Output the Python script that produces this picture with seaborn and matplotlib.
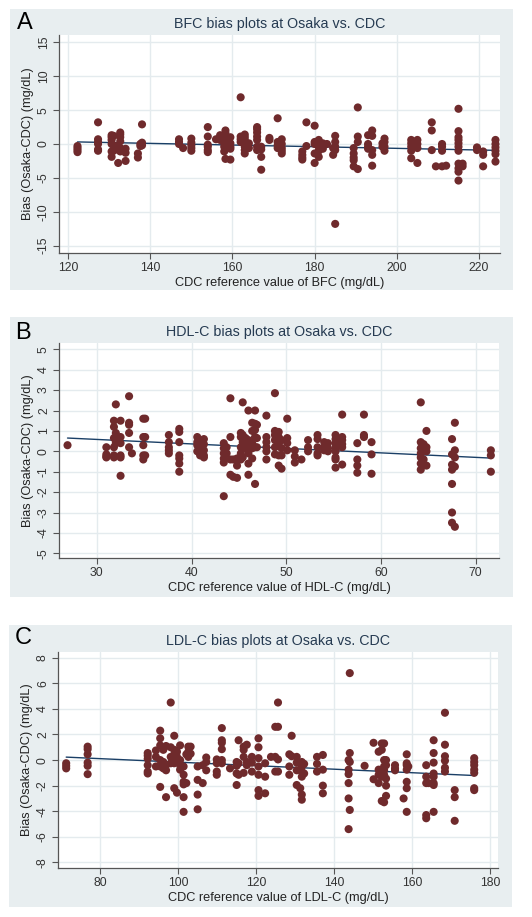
import numpy as np
import pandas as pd
import matplotlib
matplotlib.use("Agg")
import matplotlib.pyplot as plt
import seaborn as sns
from matplotlib.patches import Rectangle

# ---------------- data ----------------
bfc_ref = [122.3, 127.3, 130.6, 131.1, 132.2, 132.7, 134.0, 137.0, 137.6, 138.0,
           147.0, 148.0, 150.0, 154.0, 156.0, 157.0, 158.0, 158.3, 159.5, 162.0,
           163.0, 164.0, 166.0, 167.0, 169.0, 171.0, 172.0, 177.0, 178.0, 180.0,
           181.0, 182.0, 183.0, 184.5, 185.0, 189.5, 190.5, 193.0, 194.0, 196.5,
           197.0, 203.5, 205.0, 208.5, 209.5, 211.0, 212.0, 215.0, 216.0, 219.5,
           221.0, 224.0]
bfc_bias = [[-0.3, -0.6, -0.9, -1.2], [3.2, 0.7, 0.3, 0, -0.8, -1.0],
            [1.3, 1.0, 0.6, 0, -1.1, -1.9], [1.2, -0.2, -1.0], [-0.3, -2.8],
            [1.7, 1.4, 1.0, 0.4, -0.6, -1.1], [-0.7, -1.3, -2.5], [-1.4, -2.0],
            [0, -0.3], [2.9, 0.2, -0.2], [0.7, 0.3, 0], [-0.6],
            [0.8, 0.2, -0.2, -0.6, -1.0], [2.5, 1.1, -0.1, -0.4, -0.9, -1.2], [0.7],
            [1.3, 0.9, 0.6], [1.1, 0.6, 0.1, -0.4, -1.1],
            [2.0, 1.6, 1.0, 0.3, -0.2, -0.6, -2.2], [1.0, 0.1, -0.4, -0.7, -2.3],
            [6.9, 1.1, 0.7, 0.3], [1.4, 1.0, 0.6, 0, -0.4, -0.9, -1.4], [0.1, -0.6],
            [2.5, 2.2, 1.7, 1.1, 0.6, -0.4, -0.9], [-0.4, -0.8, -1.9, -3.8], [0.9, 0.6],
            [3.8, 0.3, -0.2, -0.6], [0.7, 0, -0.6, -1.0, -1.4], [-1.1, -1.6, -2.0, -2.3],
            [3.2, -0.3], [2.7, 0.3, 0, -1.4, -2.8], [0.6, 0.2, -0.4, -1.0, -1.9],
            [0.1, -0.2, -0.7], [0], [-0.6, -1.6], [1.2, 0.3, -0.4, -0.9, -11.8],
            [-0.6, -1.4, -2.0, -2.4, -3.3], [5.4, 1.1, 0.3, -3.7], [1.3, 0, -0.4, -0.7],
            [2.0, 1.2, -0.9, -1.6, -3.2], [0.1, -0.4], [0.8, 0.3, -0.4, -1.0],
            [0.6, 0.1, -0.4, -1.0, -2.1], [0.6, 0, -0.6, -2.8], [3.2, 2.0, -0.9], [-3.3],
            [0, -0.4, -1.0, -3.3], [-3.2],
            [5.2, 1.9, 1.0, 0.6, 0.1, -0.4, -1.0, -2.9, -3.6, -4.1, -5.4], [-2.9, -3.3],
            [-0.5, -0.9], [-1.1, -1.6, -3.3], [0.6, 0, -0.5, -1.0, -1.5, -2.6]]

hdl_ref = [26.9, 31.0, 31.8, 32.0, 32.5, 33.4, 33.7, 34.9, 35.1, 37.6, 38.7, 40.6,
           40.9, 41.3, 43.4, 43.7, 44.1, 44.4, 44.8, 45.2, 45.4, 45.7, 46.0, 46.4,
           46.7, 46.9, 47.9, 48.8, 49.2, 49.5, 50.1, 50.9, 51.6, 52.3, 53.3, 54.0,
           54.4, 55.2, 55.9, 57.5, 58.2, 59.0, 64.2, 64.5, 64.8, 67.5, 67.8, 71.6]
hdl_bias = [[0.3], [0.2, -0.15, -0.25, -0.3], [1.5, 1.2, 0.65, 0.2, -0.2, -0.3],
            [2.3, 0.9, 0.55, 0.4], [1.5, 0.7, 0.4, -0.2, -0.3, -1.2],
            [2.7, 1.4, 1.3, 0.9, 0.2], [-0.1], [1.6, 0.7, 0.3, -0.2, -0.4],
            [1.6, 0.7, -0.2], [0.8, 0.45, 0.2, 0.05, -0.1],
            [1.1, 0.95, 0.45, -0.2, -0.35, -0.6, -1.0], [0.7, 0.45, 0.3, 0],
            [0.55, 0.2, 0.05, -0.2], [0.6, 0.35, 0.05, -0.2, -0.3],
            [0.4, 0.15, -0.1, -0.35, -0.55, -2.2], [0.2, -0.1], [2.6, 0.7, -0.4, -1.15],
            [-0.4, -1.25], [-0.35, -0.7, -1.3], [0.9, 0.7, 0.2, -0.1, -0.4],
            [2.4, 0.8, 0.45, -0.3], [0.65, 0.35, 0.15], [2.0, 0.55, 0.2, -0.1, -0.6, -1.15],
            [1.4, 1.0, 0.4, 0.15, -0.35], [2.0, 1.35, 1.05, 0.7, 0.2, -1.6],
            [1.3, 0.65, 0.2], [1.75, 0.7, 0.45, 0.2, 0, -0.4],
            [2.85, 1.0, 0.8, 0.55, 0.2, -0.15], [0.95, 0.7, 0.35, -0.2, -0.7],
            [0.55, 0.15, -0.2, -0.85], [1.6, 0.65, 0.4, 0.05], [0.05, -0.25, -0.55],
            [-0.4], [0.55, 0.2, 0], [0.8, 0.6, 0.2, -0.1, -0.2], [0.45, 0.2, 0.05],
            [0.4, 0.15, 0], [0.8, 0.6, 0.4, 0.2, 0, -0.3, -0.4, -0.8],
            [1.8, 0.7, 0.55, 0.35, 0.2, -0.65], [0.4, -0.4, -0.7, -1.05], [1.8, 0.8, 0.7],
            [0.45, -0.15, -1.1], [2.4, 0.45, 0.15, -0.1, -0.3, -0.6, -0.9],
            [0.35, 0.05, -0.4], [1.0, 0.2, 0, -0.7],
            [0.6, -0.15, -0.65, -0.9, -1.6, -3.0, -3.5], [1.4, 0.05, -0.3, -0.75, -3.7],
            [0.05, -0.2, -1.0]]

ldl_ref = [71.3, 76.8, 92.2, 94.3, 95.4, 96.2, 96.9, 98.1, 99.0, 99.7, 100.5, 101.4,
           102.1, 102.6, 103.2, 105.0, 106.3, 107.2, 109.9, 111.2, 113.3, 115.0, 115.5,
           116.8, 117.6, 118.9, 120.6, 122.3, 123.8, 124.9, 125.6, 128.5, 129.1, 130.4,
           131.3, 131.7, 132.3, 135.6, 137.1, 143.7, 144.0, 147.8, 150.1, 151.4, 152.2,
           152.8, 153.3, 155.6, 157.8, 158.6, 159.0, 163.6, 164.2, 165.5, 168.4, 170.9,
           175.9]
ldl_bias = [[-0.25, -0.45, -0.65], [1.05, 0.85, 0.45, -0.2, -0.45, -1.1],
            [0.55, 0.35, 0.1, -0.4, -0.9, -1.05], [0.75, 0.25, -0.5],
            [2.3, 1.7, 1.15, 0, -0.5, -2.1], [0.8, -0.15, -0.65], [1.1, -0.4, -0.8, -2.9],
            [4.5, 1.0, 0.25, -0.25], [1.9, 0.8, 0.45, 0.15, -0.25, -2.2],
            [0.65, 0.25, -0.15, -2.55], [1.15, 0, -0.4, -0.75],
            [-0.5, -1.15, -1.7, -1.9, -2.9, -4.05], [0.45, -1.8], [1.05, 0.65, 0.25],
            [1.05, 0.5], [-0.5, -1.55, -2.7, -3.85], [-0.4, -1.8], [0.2, -0.15, -0.8],
            [0.05, -0.25, -0.9, -1.15], [2.5, 1.55, 1.35, 0.85, 0, -0.25], [-0.65],
            [-0.15, -0.45, -1.05, -1.95], [1.55, -0.25, -1.15], [1.05, 0.8, 0.25, -1.0],
            [1.2, -0.15, -0.4], [0.25, -0.2, -0.9], [1.7, 1.0, 0.15, -0.5, -1.15, -2.35, -2.8],
            [-0.25, -1.3, -2.6], [0.25], [2.6, 0.25, -0.9], [4.5, 2.6, 0.05, -0.9],
            [0.45, -0.5, -1.15], [1.9, 0.3], [0.25, -0.2, -0.8, -1.95], [-2.2],
            [-0.15, -0.5, -0.9, -1.3, -2.7, -3.1], [-0.3, -1.05], [0.25, -0.3, -0.9],
            [0.4, -0.75, -2.0, -2.6], [0, -0.75, -1.1, -1.8, -3.0, -5.4],
            [6.8, 0.55, -0.15, -3.9], [-0.45], [1.35, -1.5], [0.65, -0.75, -1.15, -1.8],
            [1.3, 0.8, -1.0, -1.3, -3.2], [1.3, 0, -0.5, -0.8, -1.15, -3.3],
            [0, -0.4, -1.45, -2.0, -2.8], [-0.4, -0.65, -0.8], [-3.0],
            [0.45, -0.25, -0.4, -0.75, -1.7, -2.2, -4.05], [-0.5],
            [-0.4, -1.3, -1.8, -4.3, -4.55], [-1.8],
            [1.55, 0.55, -0.2, -1.05, -1.3, -1.8, -1.95, -4.05],
            [3.7, 1.2, 0.3, -0.05, -0.6, -0.9], [-2.35, -2.9, -4.75],
            [0.15, -0.15, -0.4, -0.75, -1.0, -2.2, -2.35]]

panel_letters = ["A", "B", "C"]
titles = ["BFC bias plots at Osaka vs. CDC",
          "HDL-C bias plots at Osaka vs. CDC",
          "LDL-C bias plots at Osaka vs. CDC"]
xlabels = ["CDC reference value of BFC (mg/dL)",
           "CDC reference value of HDL-C (mg/dL)",
           "CDC reference value of LDL-C (mg/dL)"]
ylabel = "Bias (Osaka-CDC) (mg/dL)"
xticks_list = [[120, 140, 160, 180, 200, 220], [30, 40, 50, 60, 70],
               [80, 100, 120, 140, 160, 180]]
yticks_list = [[-15, -10, -5, 0, 5, 10, 15], [-5, -4, -3, -2, -1, 0, 1, 2, 3, 4, 5],
               [-8, -6, -4, -2, 0, 2, 4, 6, 8]]


def expand(refs, biases):
    xs, ys = [], []
    for r, b in zip(refs, biases):
        xs.extend([r] * len(b))
        ys.extend(b)
    return pd.DataFrame({"ref": xs, "bias": ys})


frames = [expand(bfc_ref, bfc_bias), expand(hdl_ref, hdl_bias),
          expand(ldl_ref, ldl_bias)]

# ---------------- styling / layout ----------------
sns.set_theme(style="white")
plt.rcParams['font.family'] = ['Liberation Sans', 'DejaVu Sans']

W, H = 532, 917
fig = plt.figure(figsize=(W / 100, H / 100), dpi=100)
fig.patch.set_facecolor("white")

BG = "#e8eef0"
DOT = "#6f2a2c"
LINE = "#1a3f66"
TITLE_C = "#263b52"
GRID = "#e4ebee"

bg_boxes = [(10, 9, 513, 290), (10, 317, 513, 597), (9, 625, 512, 907)]
ax_boxes = [(59, 35, 500, 253), (59, 343, 499, 558), (58, 652, 498, 868)]
xlims = [(117.8, 225.1), (26.0, 72.46), (69.2, 182.0)]
ylims = [(-16.1, 16.1), (-5.23, 5.31), (-8.44, 8.45)]
letter_pos = [(17, 23), (15, 333), (15, 638)]

for i in range(3):
    l, t, r, b = bg_boxes[i]
    fig.patches.append(Rectangle((l / W, 1 - b / H), (r - l) / W, (b - t) / H,
                                 transform=fig.transFigure, facecolor=BG,
                                 edgecolor="none", zorder=-10))
    l, t, r, b = ax_boxes[i]
    ax = fig.add_axes([l / W, 1 - b / H, (r - l) / W, (b - t) / H], zorder=1)
    ax.set_facecolor("white")
    df = frames[i]
    sns.regplot(data=df, x="ref", y="bias", ax=ax, scatter=False, ci=None,
                line_kws=dict(color=LINE, lw=1.0, zorder=2))
    sns.scatterplot(data=df, x="ref", y="bias", ax=ax, color=DOT, s=34,
                    edgecolor="none", linewidth=0, zorder=3)
    ax.set_xlim(*xlims[i])
    ax.set_ylim(*ylims[i])
    ax.set_xticks(xticks_list[i])
    ax.set_xticklabels([str(v) for v in xticks_list[i]])
    ax.set_yticks(yticks_list[i])
    ax.set_yticklabels([str(v) for v in yticks_list[i]], rotation=90, va="center")
    ax.grid(True, color=GRID, lw=1.0, zorder=0)
    ax.set_axisbelow(True)
    for s in ["top", "right"]:
        ax.spines[s].set_visible(False)
    for s in ["left", "bottom"]:
        ax.spines[s].set_color("#555555")
        ax.spines[s].set_linewidth(0.9)
    ax.tick_params(axis="both", direction="out", length=4, width=0.8,
                   color="#555555", labelsize=8.8, labelcolor="#333333", pad=2.5,
                   left=True, bottom=True)
    ax.set_xlabel(xlabels[i], fontsize=9.2, color="#222222", labelpad=2)
    ax.set_ylabel(ylabel, fontsize=9.2, color="#222222", labelpad=3)
    ax.set_title(titles[i], fontsize=10.3, color=TITLE_C, pad=5)
    lx, ly = letter_pos[i]
    fig.text(lx / W, 1 - ly / H, panel_letters[i], fontsize=17, color="black",
             ha="left", va="center", zorder=5)

fig.savefig("out.png", dpi=100, facecolor="white")
